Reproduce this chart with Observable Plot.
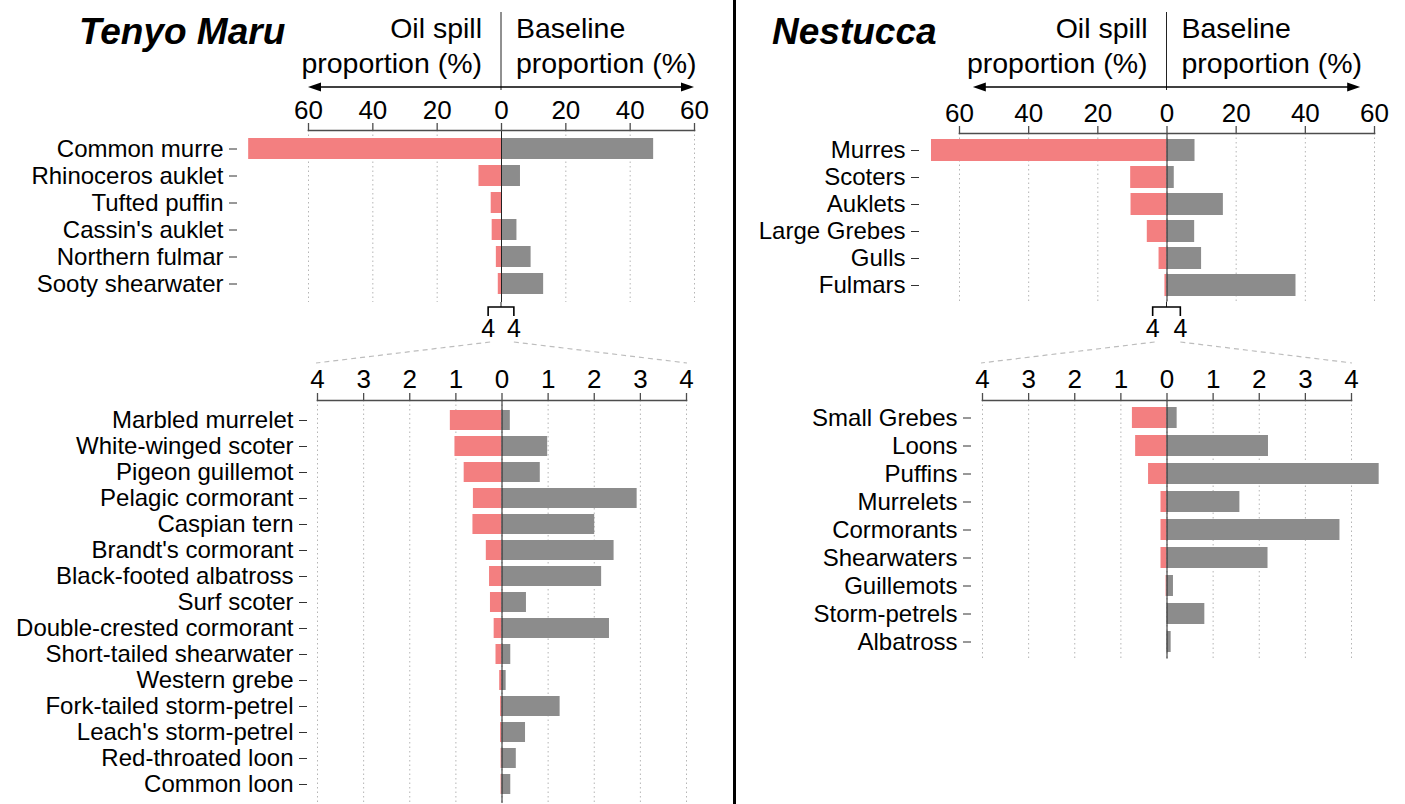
<!DOCTYPE html>
<html><head><meta charset="utf-8">
<script src="https://cdn.jsdelivr.net/npm/d3@7"></script>
<script src="https://cdn.jsdelivr.net/npm/@observablehq/plot@0.6"></script>
<style>
html,body{margin:0;padding:0;background:#fff;}
#root{position:relative;width:1405px;height:804px;overflow:hidden;font-family:"Liberation Sans",Arial,sans-serif;}
#root > svg{position:absolute;}
</style></head><body><div id="root"></div>
<script>
// ---------- DATA ----------
const panelTitles = ["Tenyo Maru", "Nestucca"];
const leftLabel = ["Oil spill", "proportion (%)"];
const rightLabel = ["Baseline", "proportion (%)"];
const topTicks = [-60, -40, -20, 0, 20, 40, 60];
const bottomTicks = [-4, -3, -2, -1, 0, 1, 2, 3, 4];
const zoomLimit = 4;

const tenyoTopSpecies = ["Common murre", "Rhinoceros auklet", "Tufted puffin", "Cassin's auklet", "Northern fulmar", "Sooty shearwater"];
const tenyoTopOil = [78.6, 7.0, 3.2, 2.9, 1.6, 1.0];
const tenyoTopBaseline = [47.3, 5.9, 0, 4.8, 9.2, 13.1];

const tenyoBottomSpecies = ["Marbled murrelet", "White-winged scoter", "Pigeon guillemot", "Pelagic cormorant", "Caspian tern", "Brandt's cormorant", "Black-footed albatross", "Surf scoter", "Double-crested cormorant", "Short-tailed shearwater", "Western grebe", "Fork-tailed storm-petrel", "Leach's storm-petrel", "Red-throated loon", "Common loon"];
const tenyoBottomOil = [1.12, 1.02, 0.82, 0.62, 0.63, 0.34, 0.27, 0.25, 0.17, 0.13, 0.05, 0.03, 0.03, 0.02, 0.02];
const tenyoBottomBaseline = [0.18, 0.99, 0.83, 2.93, 2.01, 2.43, 2.16, 0.53, 2.33, 0.19, 0.09, 1.26, 0.51, 0.31, 0.19];

const nestuccaTopSpecies = ["Murres", "Scoters", "Auklets", "Large Grebes", "Gulls", "Fulmars"];
const nestuccaTopOil = [68.1, 10.5, 10.4, 5.7, 2.3, 0.6];
const nestuccaTopBaseline = [8.1, 2.1, 16.3, 8.0, 10.0, 37.3];

const nestuccaBottomSpecies = ["Small Grebes", "Loons", "Puffins", "Murrelets", "Cormorants", "Shearwaters", "Guillemots", "Storm-petrels", "Albatross"];
const nestuccaBottomOil = [0.75, 0.68, 0.40, 0.13, 0.13, 0.13, 0.02, 0, 0];
const nestuccaBottomBaseline = [0.22, 2.20, 4.60, 1.58, 3.75, 2.19, 0.14, 0.82, 0.09];

// ---------- STYLE ----------
const PINK = "#F37F80", GRAY = "#8C8C8C";
const FONT = "'Liberation Sans', Arial, sans-serif";
const root = document.getElementById("root");

function subplot(cfg) {
  const rows = cfg.species.flatMap((s, i) => [
    {species: s, group: "Oil spill", value: -cfg.oil[i]},
    {species: s, group: "Baseline", value: cfg.base[i]}
  ]);
  const pi = cfg.pi;
  const chart = Plot.plot({
    width: cfg.w, height: cfg.h,
    marginLeft: cfg.x0 - cfg.left, marginRight: cfg.left + cfg.w - cfg.x1,
    marginTop: cfg.y0 - cfg.top, marginBottom: cfg.top + cfg.h - cfg.y1,
    x: {domain: [-cfg.max, cfg.max]},
    y: {domain: cfg.species, paddingInner: pi, paddingOuter: 0.6 - (1 - pi) / 2},
    color: {domain: ["Oil spill", "Baseline"], range: [PINK, GRAY]},
    style: {fontFamily: FONT, fontSize: "24px", color: "#000", background: "transparent", overflow: "visible"},
    marks: [
      Plot.gridX(cfg.ticks, {stroke: "#b5b5b5", strokeOpacity: 1, strokeDasharray: "1.5,3", strokeWidth: 1}),
      Plot.barX(rows, {x: "value", y: "species", fill: "group"}),
      Plot.ruleX([0], {stroke: "#222", strokeWidth: 1}),
      Plot.frame({anchor: "top", stroke: "#4d4d4d", strokeWidth: 1.6}),
      Plot.axisX(cfg.ticks, {anchor: "top", tickFormat: d => Math.abs(d), tickSize: 8, tickPadding: cfg.tickPad, fontSize: 26, label: null, stroke: "#4d4d4d", strokeWidth: 1.3}),
      Plot.axisY({anchor: "left", dx: cfg.yAxisX - cfg.x0, tickSize: 8, tickPadding: 6, fontSize: 24, label: null, stroke: "#333"})
    ]
  });
  chart.style.left = cfg.left + "px";
  chart.style.top = cfg.top + "px";
  root.appendChild(chart);
  const xs = chart.scale("x");
  return {x: v => cfg.left + xs.apply(v), y1: cfg.y1};
}

const panels = [
  {
    title: panelTitles[0], titleX: 79, arrow: 60,
    top: subplot({species: tenyoTopSpecies, oil: tenyoTopOil, base: tenyoTopBaseline, max: 60, ticks: topTicks, pi: 0.22, tickPad: 4,
      left: 0, w: 733, top: 0, h: 310, x0: 308, x1: 694, y0: 130, y1: 302, yAxisX: 237}),
    bottom: subplot({species: tenyoBottomSpecies, oil: tenyoBottomOil, base: tenyoBottomBaseline, max: zoomLimit, ticks: bottomTicks, pi: 0.25, tickPad: 5,
      left: 0, w: 733, top: 340, h: 464, x0: 317, x1: 686, y0: 400, y1: 803, yAxisX: 307})
  },
  {
    title: panelTitles[1], titleX: 772, arrow: 56,
    top: subplot({species: nestuccaTopSpecies, oil: nestuccaTopOil, base: nestuccaTopBaseline, max: 60, ticks: topTicks, pi: 0.18, tickPad: 4,
      left: 737, w: 668, top: 0, h: 310, x0: 959, x1: 1374, y0: 133, y1: 301.5, yAxisX: 919}),
    bottom: subplot({species: nestuccaBottomSpecies, oil: nestuccaBottomOil, base: nestuccaBottomBaseline, max: zoomLimit, ticks: bottomTicks, pi: 0.25, tickPad: 5,
      left: 737, w: 668, top: 340, h: 320, x0: 982, x1: 1351, y0: 400, y1: 658.6, yAxisX: 971})
  }
];

// ---------- ANNOTATION OVERLAY ----------
const svg = d3.select(root).append("svg")
  .attr("width", 1405).attr("height", 804)
  .style("left", "0px").style("top", "0px")
  .style("font-family", FONT);

svg.append("rect").attr("x", 733).attr("y", 0).attr("width", 3).attr("height", 804).attr("fill", "#000");

for (const p of panels) {
  const xt = p.top.x, xb = p.bottom.x;
  const x0 = xt(0);
  svg.append("text").attr("x", p.titleX).attr("y", 44)
    .attr("font-size", 37).attr("font-weight", "bold").attr("font-style", "italic").text(p.title);
  leftLabel.forEach((t, i) => svg.append("text").attr("x", x0 - 19).attr("y", 38 + i * 35)
    .attr("text-anchor", "end").attr("font-size", 28.5).text(t));
  rightLabel.forEach((t, i) => svg.append("text").attr("x", x0 + 15).attr("y", 38 + i * 35)
    .attr("text-anchor", "start").attr("font-size", 28.5).text(t));
  svg.append("line").attr("x1", x0).attr("x2", x0).attr("y1", 12).attr("y2", 90).attr("stroke", "#222").attr("stroke-width", 1);
  // double arrow
  const ax1 = xt(-p.arrow), ax2 = xt(p.arrow), ay = 87;
  svg.append("line").attr("x1", ax1 + 6).attr("x2", ax2 - 6).attr("y1", ay).attr("y2", ay).attr("stroke", "#000").attr("stroke-width", 1.6);
  svg.append("path").attr("d", `M${ax1},${ay}L${ax1 + 13},${ay - 4.5}L${ax1 + 13},${ay + 4.5}Z`).attr("fill", "#000");
  svg.append("path").attr("d", `M${ax2},${ay}L${ax2 - 13},${ay - 4.5}L${ax2 - 13},${ay + 4.5}Z`).attr("fill", "#000");
  // zero stem and bracket marking the zoomed range
  const bl = xt(-zoomLimit), br = xt(zoomLimit);
  svg.append("line").attr("x1", x0).attr("x2", x0).attr("y1", p.top.y1).attr("y2", 307).attr("stroke", "#222");
  svg.append("path").attr("d", `M${bl},316V307H${br}V316`).attr("fill", "none").attr("stroke", "#000").attr("stroke-width", 1.6);
  [bl, br].forEach(x => svg.append("text").attr("x", x).attr("y", 337).attr("text-anchor", "middle").attr("font-size", 25).text(zoomLimit));
  // dashed connectors
  svg.append("line").attr("x1", bl + 2).attr("y1", 342).attr("x2", xb(-zoomLimit) - 1).attr("y2", 363)
    .attr("stroke", "#bdbdbd").attr("stroke-width", 1.2).attr("stroke-dasharray", "5,4");
  svg.append("line").attr("x1", br).attr("y1", 342).attr("x2", xb(zoomLimit) + 1).attr("y2", 363)
    .attr("stroke", "#bdbdbd").attr("stroke-width", 1.2).attr("stroke-dasharray", "5,4");
}
</script></body></html>
